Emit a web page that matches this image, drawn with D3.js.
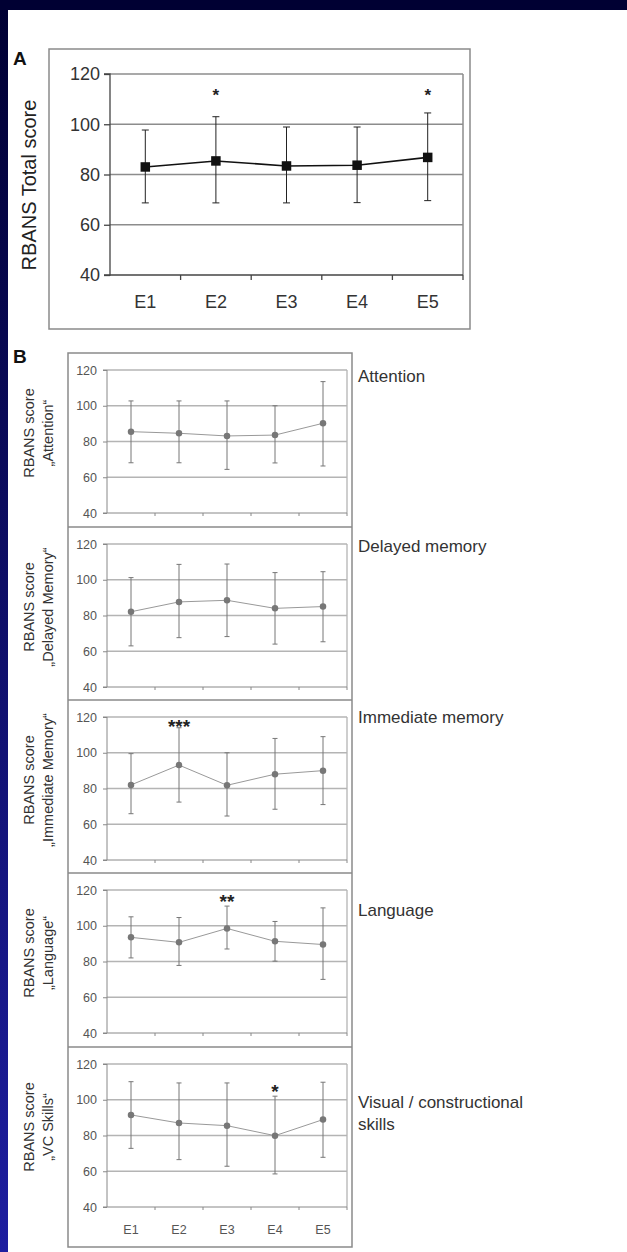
<!DOCTYPE html>
<html><head><meta charset="utf-8">
<script src="https://cdn.jsdelivr.net/npm/d3@7"></script>
<style>
html,body{margin:0;padding:0;background:#fff;}
svg{display:block;}
text{font-family:"Liberation Sans",Arial,sans-serif;}
</style></head>
<body>
<svg id="c" width="627" height="1252"></svg>
<script>
// ---- data ----
const categories = ["E1","E2","E3","E4","E5"];
const yTicks = [40,60,80,100,120];

const totalMean  = [83.0, 85.4, 83.4, 83.7, 86.8];
const totalUpper = [97.7, 103.0, 98.9, 98.9, 104.5];
const totalLower = [68.7, 68.7, 68.7, 68.8, 69.6];
const totalStars = ["", "*", "", "", "*"];

const attentionMean  = [85.5, 84.6, 83.1, 83.6, 90.2];
const attentionUpper = [102.7, 102.7, 102.7, 100.0, 113.5];
const attentionLower = [68.1, 68.1, 64.4, 68.0, 66.3];
const attentionStars = ["", "", "", "", ""];

const delayedMean  = [82.1, 87.6, 88.5, 84.0, 85.0];
const delayedUpper = [101.2, 108.6, 108.8, 104.0, 104.5];
const delayedLower = [63.0, 67.6, 68.2, 64.0, 65.3];
const delayedStars = ["", "", "", "", ""];

const immediateMean  = [82.0, 93.1, 81.8, 88.0, 90.0];
const immediateUpper = [99.5, 114.0, 100.0, 108.0, 109.0];
const immediateLower = [65.9, 72.4, 64.6, 68.4, 71.0];
const immediateStars = ["", "***", "", "", ""];

const languageMean  = [93.5, 90.7, 98.5, 91.3, 89.5];
const languageUpper = [105.0, 104.6, 111.0, 102.4, 110.0];
const languageLower = [82.0, 77.8, 87.0, 80.2, 70.0];
const languageStars = ["", "", "**", "", ""];

const vcMean  = [91.5, 87.0, 85.5, 79.9, 88.9];
const vcUpper = [110.1, 109.4, 109.4, 102.0, 109.8];
const vcLower = [72.8, 66.5, 62.8, 58.5, 67.8];
const vcStars = ["", "", "", "*", ""];

const subTitles = ["Attention", "Delayed memory", "Immediate memory", "Language", ["Visual / constructional","skills"]];
const subYLabels = ["\u201EAttention\u201C", "\u201EDelayed Memory\u201C", "\u201EImmediate Memory\u201C", "\u201ELanguage\u201C", "\u201EVC Skills\u201C"];

// ---- drawing ----
const svg = d3.select("#c");
const defs = svg.append("defs");
const grad = defs.append("linearGradient").attr("id","bg").attr("x1",0).attr("y1",0).attr("x2",0).attr("y2",1);
grad.append("stop").attr("offset","0%").attr("stop-color","#000033");
grad.append("stop").attr("offset","100%").attr("stop-color","#1e1ea0");
svg.append("rect").attr("width",627).attr("height",1252).attr("fill","url(#bg)");
svg.append("rect").attr("x",0).attr("y",0).attr("width",627).attr("height",10).attr("fill","#000033");
svg.append("rect").attr("x",8).attr("y",10).attr("width",619).attr("height",1242).attr("fill","#fff");

function drawPanel(g, cfg){
  const x = d3.scaleBand().domain(categories).range([cfg.x0, cfg.x1]);
  const y = d3.scaleLinear().domain([40,120]).range([cfg.yb, cfg.yt]);
  // gridlines
  g.selectAll(".grid").data(yTicks.filter(t=>t>40)).join("line")
    .attr("x1",cfg.x0).attr("x2",cfg.x1).attr("y1",d=>y(d)).attr("y2",d=>y(d))
    .attr("stroke",cfg.gridColor).attr("stroke-width",cfg.gridW);
  // right border
  g.append("line").attr("x1",cfg.x1).attr("x2",cfg.x1).attr("y1",y(120)).attr("y2",y(40))
    .attr("stroke",cfg.gridColor).attr("stroke-width",cfg.gridW);
  // y axis
  const ya = g.append("g").attr("transform",`translate(${cfg.x0},0)`)
    .call(d3.axisLeft(y).tickValues(yTicks).tickSize(cfg.tick).tickPadding(cfg.tickPad));
  ya.select(".domain").attr("stroke",cfg.axisColor).attr("stroke-width",cfg.axisW).attr("d",`M${-cfg.tick},${y(40)}H0V${y(120)}H${-cfg.tick}`);
  ya.selectAll(".tick line").attr("stroke",cfg.axisColor).attr("stroke-width",cfg.axisW);
  ya.selectAll(".tick text").attr("fill",cfg.textColor).style("font-size",cfg.tickFont+"px").style("font-family","Liberation Sans, Arial, sans-serif");
  // x axis
  const xa = g.append("g").attr("transform",`translate(0,${y(40)})`)
    .call(d3.axisBottom(x).tickSize(0).tickPadding(cfg.xPad));
  xa.select(".domain").attr("stroke",cfg.axisColor).attr("stroke-width",cfg.axisW).attr("d",`M${cfg.x0},0H${cfg.x1}`);
  if(cfg.showX){
    xa.selectAll(".tick text").attr("fill",cfg.textColor).style("font-size",cfg.tickFont+"px")
      .style("font-family","Liberation Sans, Arial, sans-serif");
  } else {
    xa.selectAll(".tick text").remove();
  }
  // boundary ticks
  g.selectAll(".bt").data(categories).join("line")
    .attr("x1",d=>x(d)+x.bandwidth()).attr("x2",d=>x(d)+x.bandwidth())
    .attr("y1",y(40)).attr("y2",y(40)+cfg.xtick)
    .attr("stroke",cfg.axisColor).attr("stroke-width",cfg.axisW);
  const cx = d=>x(d)+x.bandwidth()/2;
  // error bars
  const eb = g.append("g");
  categories.forEach((c,i)=>{
    eb.append("line").attr("x1",cx(c)).attr("x2",cx(c)).attr("y1",y(cfg.upper[i])).attr("y2",y(cfg.lower[i]))
      .attr("stroke",cfg.errColor).attr("stroke-width",cfg.errW);
    [cfg.upper[i], cfg.lower[i]].forEach(v=>{
      eb.append("line").attr("x1",cx(c)-cfg.cap).attr("x2",cx(c)+cfg.cap).attr("y1",y(v)).attr("y2",y(v))
        .attr("stroke",cfg.errColor).attr("stroke-width",cfg.errW);
    });
  });
  // line
  const line = d3.line().x((d,i)=>cx(categories[i])).y(d=>y(d));
  g.append("path").attr("d",line(cfg.mean)).attr("fill","none").attr("stroke",cfg.lineColor).attr("stroke-width",cfg.lineW);
  // markers
  if(cfg.square){
    g.selectAll(".m").data(cfg.mean).join("rect")
      .attr("x",(d,i)=>cx(categories[i])-cfg.ms/2).attr("y",d=>y(d)-cfg.ms/2)
      .attr("width",cfg.ms).attr("height",cfg.ms).attr("fill",cfg.markColor);
  } else {
    g.selectAll(".m").data(cfg.mean).join("circle")
      .attr("cx",(d,i)=>cx(categories[i])).attr("cy",d=>y(d)).attr("r",cfg.ms/2).attr("fill",cfg.markColor);
  }
  // stars
  const starData = cfg.stars.map((s,i)=>({s,c:categories[i]})).filter(d=>d.s);
  g.selectAll(".s").data(starData).join("text")
    .attr("x",d=>cx(d.c)).attr("y",cfg.starY)
    .attr("text-anchor","middle").attr("fill","#222").style("font-size",cfg.starFont+"px").style("font-weight","bold")
    .text(d=>d.s);
  return {x,y};
}

// Panel A
const gA = svg.append("g");
gA.append("rect").attr("x",49).attr("y",49).attr("width",421).attr("height",280)
  .attr("fill","none").attr("stroke","#8a8a8a").attr("stroke-width",1.5);
gA.append("text").attr("x",13).attr("y",65).style("font-size","19px").style("font-weight","bold").attr("fill","#111").text("A");
drawPanel(gA,{x0:110,x1:463,yt:74,yb:275,gridColor:"#8c8c8c",gridW:1.5,axisColor:"#444",axisW:1.3,
  tick:6,tickPad:4,tickFont:18,xPad:20,showX:true,xtick:5,textColor:"#333",
  upper:totalUpper,lower:totalLower,mean:totalMean,stars:totalStars,
  errColor:"#222",errW:1,cap:3.5,lineColor:"#111",lineW:1.6,markColor:"#111",ms:9.5,square:true,starY:101,starFont:17});
gA.append("text").attr("transform","translate(36,185) rotate(-90)").attr("text-anchor","middle")
  .style("font-size","20px").attr("fill","#222").text("RBANS Total score");

// Panel B
const gB = svg.append("g");
gB.append("text").attr("x",13).attr("y",363).style("font-size","19px").style("font-weight","bold").attr("fill","#111").text("B");
const subTops = [353, 527, 700, 873, 1047];
const subMeans = [attentionMean, delayedMean, immediateMean, languageMean, vcMean];
const subUppers = [attentionUpper, delayedUpper, immediateUpper, languageUpper, vcUpper];
const subLowers = [attentionLower, delayedLower, immediateLower, languageLower, vcLower];
const subStars = [attentionStars, delayedStars, immediateStars, languageStars, vcStars];
const titleY = [382, 552, 723, 916, 1108];
const starYs = [0, 0, 733, 908, 1098];

gB.append("rect").attr("x",68).attr("y",353).attr("width",284).attr("height",894)
  .attr("fill","none").attr("stroke","#8a8a8a").attr("stroke-width",1.5);
subTops.forEach((top,k)=>{
  if(k>0) gB.append("line").attr("x1",68).attr("x2",352).attr("y1",top).attr("y2",top).attr("stroke","#8a8a8a").attr("stroke-width",1.5);
  const g = gB.append("g");
  drawPanel(g,{x0:107,x1:347,yt:top+17,yb:top+160,gridColor:"#b4b4b4",gridW:1.3,axisColor:"#888",axisW:1,
    tick:4,tickPad:6,tickFont:12.5,xPad:18,showX:k===4,xtick:3,textColor:"#555",
    upper:subUppers[k],lower:subLowers[k],mean:subMeans[k],stars:subStars[k],
    errColor:"#777",errW:1,cap:2.5,lineColor:"#999",lineW:1,markColor:"#777",ms:6.5,square:false,starY:starYs[k],starFont:19});
  const cy = top + 80;
  g.append("text").attr("transform",`translate(34,${cy}) rotate(-90)`).attr("text-anchor","middle")
    .style("font-size","14.5px").attr("fill","#333").text("RBANS score");
  g.append("text").attr("transform",`translate(53,${cy}) rotate(-90)`).attr("text-anchor","middle")
    .style("font-size","14.5px").attr("fill","#333").text(subYLabels[k]);
  const t = subTitles[k];
  const lines = Array.isArray(t) ? t : [t];
  lines.forEach((s,j)=>{
    g.append("text").attr("x",358).attr("y",titleY[k]+j*22).style("font-size","17px").attr("fill","#333").text(s);
  });
});
</script>
</body></html>
